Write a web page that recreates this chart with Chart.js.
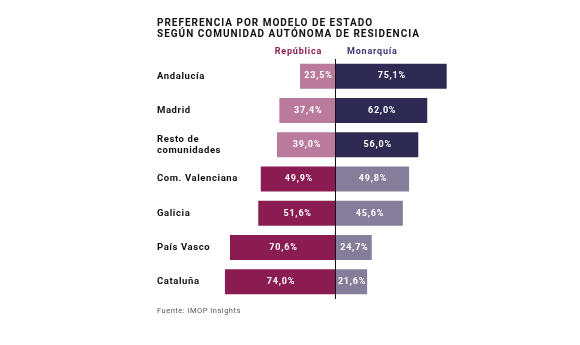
<!DOCTYPE html>
<html>
<head>
<meta charset="utf-8">
<script src="https://cdn.jsdelivr.net/npm/chart.js@4"></script>
<style>
  html, body { margin: 0; padding: 0; background: #fff; }
  #wrap { width: 580px; height: 345px; }
</style>
</head>
<body>
<div id="wrap"><canvas id="chart" width="580" height="345"></canvas></div>
<script>
// datos
const categories = ["Andalucía", "Madrid", ["Resto de", "comunidades"], "Com. Valenciana", "Galicia", "País Vasco", "Cataluña"];
const republica = [23.5, 37.4, 39.0, 49.9, 51.6, 70.6, 74.0];
const monarquia = [75.1, 62.0, 56.0, 49.8, 45.6, 24.7, 21.6];

const FONT = "Roboto, 'DejaVu Sans', sans-serif";
const repColors = ["#b97a9c", "#b97a9c", "#b97a9c", "#8a1c52", "#8a1c52", "#8a1c52", "#8a1c52"];
const monColors = ["#2f2a53", "#2f2a53", "#2f2a53", "#857e9a", "#857e9a", "#857e9a", "#857e9a"];

const fmt = v => v.toFixed(1).replace(".", ",") + "%";

const textPlugin = {
    id: "texts",
    afterDatasetsDraw(chart) {
        const ctx = chart.ctx;
        const area = chart.chartArea;
        const x = chart.scales.x;
        const y = chart.scales.y;
        ctx.save();

        // linea central
        ctx.strokeStyle = "#111";
        ctx.lineWidth = 1;
        ctx.beginPath();
        ctx.moveTo(Math.round(x.getPixelForValue(0)) + 0.5, area.top);
        ctx.lineTo(Math.round(x.getPixelForValue(0)) + 0.5, area.bottom);
        ctx.stroke();

        // titulo
        ctx.fillStyle = "#111";
        ctx.textBaseline = "middle";
        ctx.textAlign = "left";
        ctx.letterSpacing = "1px";
        ctx.font = "bold 10px " + FONT;
        ctx.fillText("PREFERENCIA POR MODELO DE ESTADO", 157, 23.5);
        ctx.fillText("SEGÚN COMUNIDAD AUTÓNOMA DE RESIDENCIA", 157, 34);

        // leyenda
        ctx.letterSpacing = "0.8px";
        ctx.font = "bold 9px " + FONT;
        ctx.textAlign = "right";
        ctx.fillStyle = "#8a1c52";
        ctx.fillText("República", 322, 52);
        ctx.textAlign = "left";
        ctx.fillStyle = "#3d3670";
        ctx.fillText("Monarquía", 347, 52);

        // etiquetas de categoria
        ctx.fillStyle = "#111";
        ctx.letterSpacing = "0.6px";
        ctx.font = "bold 9.5px " + FONT;
        categories.forEach((c, i) => {
            const py = y.getPixelForValue(i);
            if (Array.isArray(c)) {
                ctx.fillText(c[0], 157, py - 5);
                ctx.fillText(c[1], 157, py + 5.5);
            } else {
                ctx.fillText(c, 157, py);
            }
        });

        // valores dentro de las barras
        ctx.fillStyle = "#fff";
        ctx.textAlign = "center";
        ctx.letterSpacing = "0.8px";
        ctx.font = "bold 9px " + FONT;
        chart.data.datasets.forEach((ds, di) => {
            const meta = chart.getDatasetMeta(di);
            const src = di === 0 ? republica : monarquia;
            meta.data.forEach((bar, i) => {
                ctx.fillText(fmt(src[i]), (bar.x + bar.base) / 2 + 1, bar.y);
            });
        });

        // fuente
        ctx.textAlign = "left";
        ctx.fillStyle = "#555";
        ctx.letterSpacing = "0.5px";
        ctx.font = "7.5px " + FONT;
        ctx.fillText("Fuente: IMOP Insights", 157, 311);

        ctx.restore();
    }
};

const ctx = document.getElementById("chart").getContext("2d");
const chart = new Chart(ctx, {
    type: "bar",
    data: {
        labels: categories,
        datasets: [{
            label: "República",
            data: republica.map(v => -v),
            backgroundColor: repColors,
            borderWidth: 0
        }, {
            label: "Monarquía",
            data: monarquia,
            backgroundColor: monColors,
            borderWidth: 0
        }]
    },
    options: {
        indexAxis: "y",
        responsive: false,
        animation: false,
        layout: { padding: { left: 216, right: 126, top: 59, bottom: 46 } },
        datasets: { bar: { barPercentage: 0.73, categoryPercentage: 1 } },
        scales: {
            x: { display: false, stacked: true, min: -80, max: 80 },
            y: { display: false, stacked: true }
        },
        plugins: {
            legend: { display: false },
            tooltip: { enabled: false },
            title: { display: false }
        }
    },
    plugins: [textPlugin]
});
</script>
</body>
</html>
